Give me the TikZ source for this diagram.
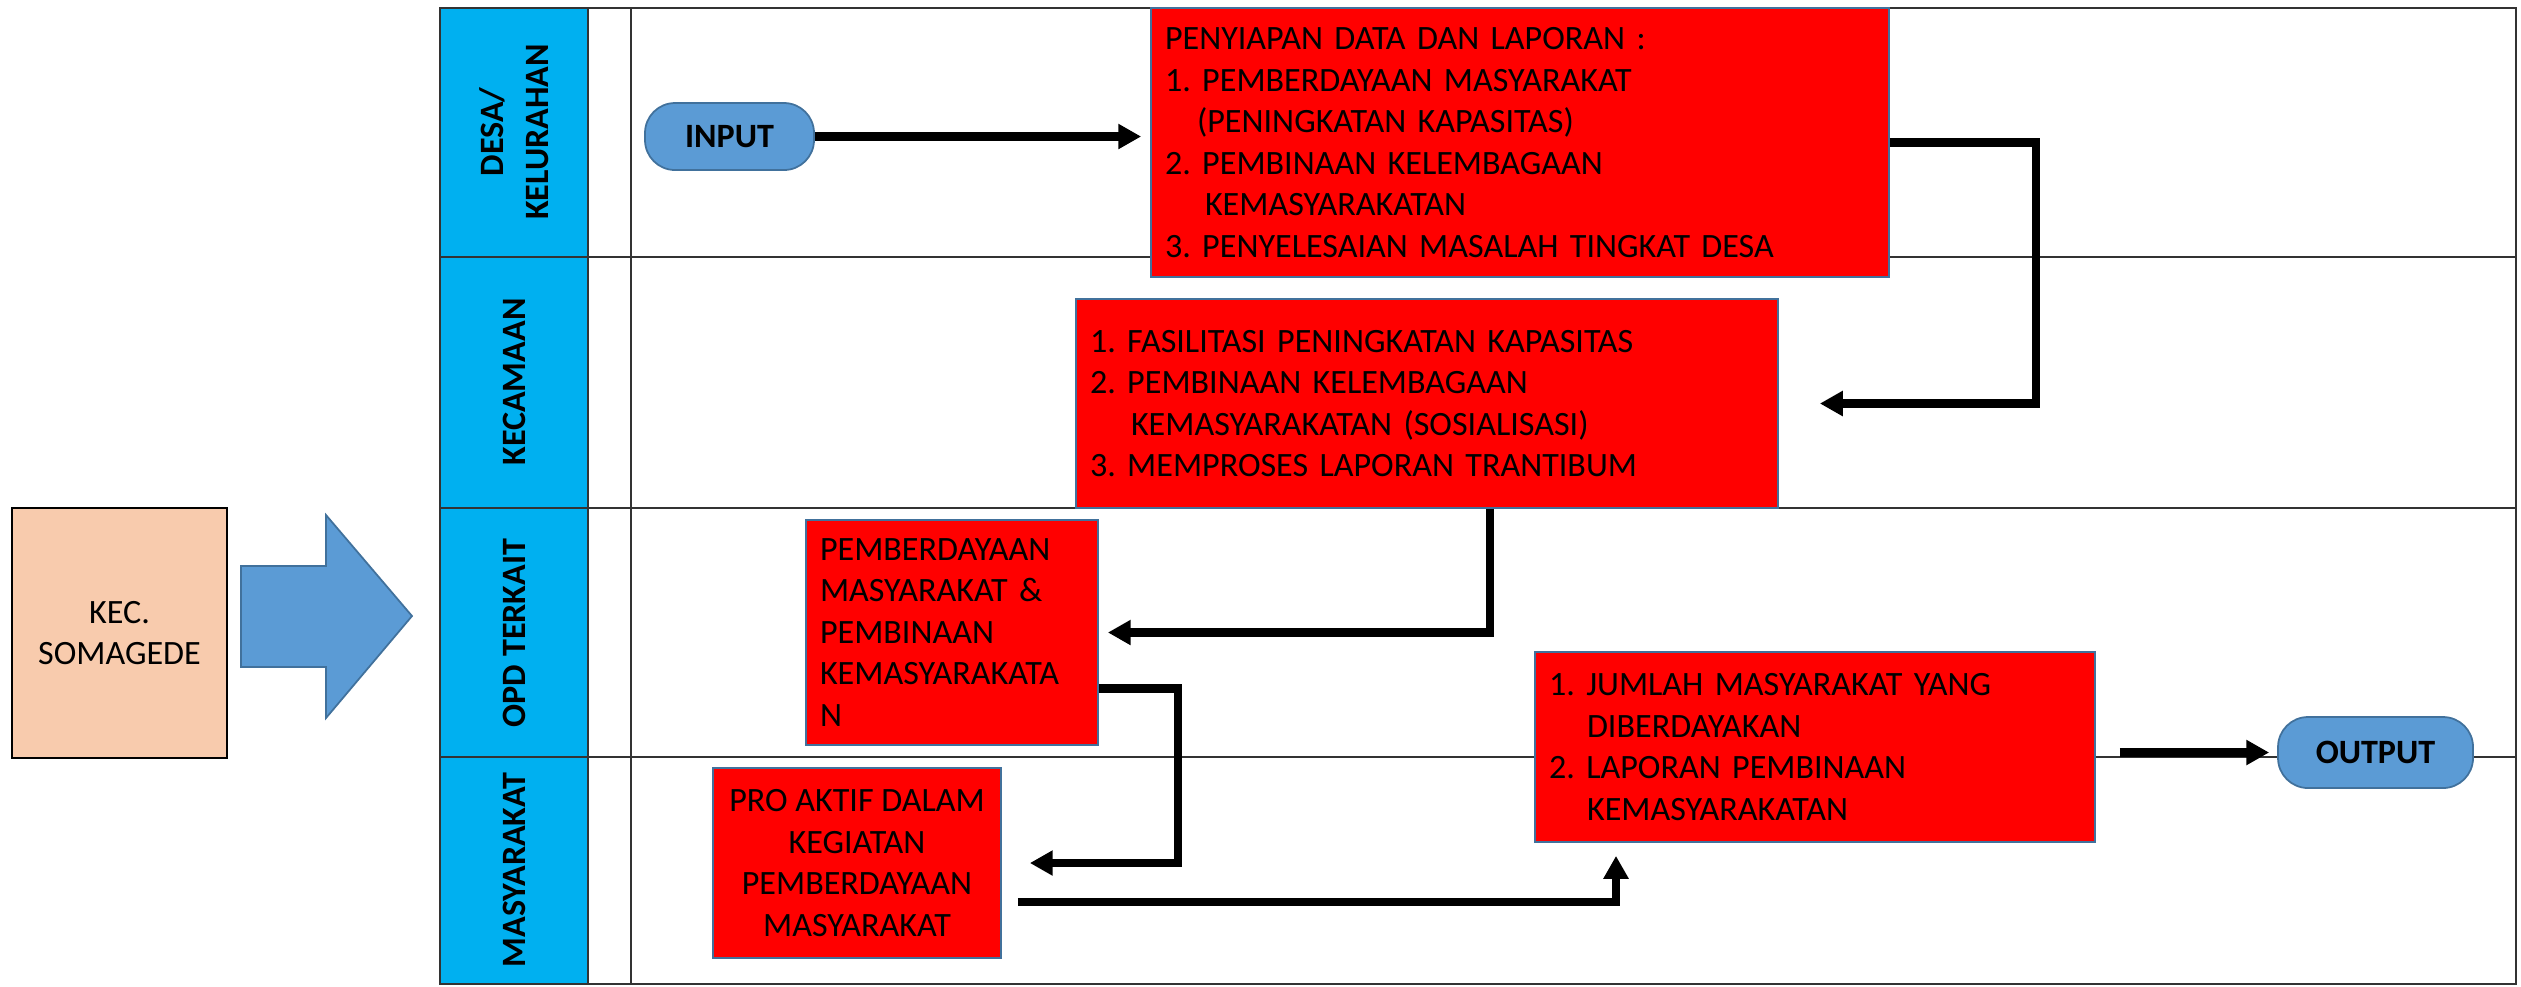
\documentclass[tikz,border=0pt]{standalone}
\usepackage{fontspec}
\setmainfont{Carlito}
\usepackage{tikz}
\usetikzlibrary{arrows.meta,positioning}
\definecolor{lanecyan}{RGB}{0,176,240}
\definecolor{termblue}{RGB}{91,155,213}
\definecolor{edgeblue}{RGB}{65,113,156}
\definecolor{peach}{RGB}{248,203,173}
\definecolor{taskred}{RGB}{255,0,0}
\frenchspacing

\begin{document}
\begin{tikzpicture}[
    txt/.style={font=\fontsize{9.7}{11.8}\selectfont},
    grid/.style={draw=black!80, line width=0.6pt},
    task/.style={txt, draw=edgeblue, line width=0.5pt, fill=taskred, align=left, inner xsep=0.14cm, inner ysep=0pt},
    term/.style={font=\fontsize{9.7}{11.8}\selectfont\bfseries, draw=edgeblue, line width=0.5pt, fill=termblue, rounded corners=3mm, inner sep=0pt},
    lane/.style={font=\fontsize{9.7}{12.8}\selectfont\bfseries, rotate=90, align=center},
    flow/.style={line width=2.3pt, -{Triangle[length=6.5pt,width=6.8pt]}}
  ]
  \useasboundingbox (0,0) rectangle (25.21,-9.86);

  \fill[lanecyan] (4.40,-0.08) rectangle (5.88,-9.84);
  \draw[grid] (4.40,-0.08) rectangle (25.16,-9.84);
  \draw[grid] (5.88,-0.08) -- (5.88,-9.84);
  \draw[grid] (6.31,-0.08) -- (6.31,-9.84);
  \foreach \y in {-2.57,-5.08,-7.57}
    \draw[grid] (4.40,\y) -- (25.16,\y);

  \node[lane] (ldesa) at (5.14,-1.32) {DESA/\\KELURAHAN};
  \node[lane] (lkec) at (5.14,-3.82) {KECAMAAN};
  \node[lane] (lopd) at (5.14,-6.33) {OPD TERKAIT};
  \node[lane] (lmas) at (5.14,-8.70) {MASYARAKAT};

  \node[txt, draw, line width=0.8pt, fill=peach, align=center, minimum width=2.15cm, minimum height=2.50cm] (src) at (1.195,-6.33) {KEC.\\SOMAGEDE};
  \draw[edgeblue, fill=termblue, line width=0.5pt] (2.41,-5.66) -- (3.26,-5.66) -- (3.26,-5.15) -- (4.12,-6.16)
    -- (3.26,-7.18) -- (3.26,-6.67) -- (2.41,-6.67) -- cycle;

  \node[term, minimum width=1.69cm, minimum height=0.67cm] (inp) at (7.295,-1.365) {INPUT};
  \node[term, minimum width=1.95cm, minimum height=0.71cm] (outp) at (23.755,-7.525) {OUTPUT};

  \node[task, text width=7.10cm, minimum height=2.69cm] (desa) at (15.20,-1.425) {PENYIAPAN DATA DAN LAPORAN :\\
    1. PEMBERDAYAAN MASYARAKAT\\
    \hspace*{0.32cm}(PENINGKATAN KAPASITAS)\\
    2. PEMBINAAN KELEMBAGAAN\\
    \hspace*{0.40cm}KEMASYARAKATAN\\
    3. PENYELESAIAN MASALAH TINGKAT DESA};
  \node[task, text width=6.74cm, minimum height=2.09cm] (kcm) at (14.27,-4.035) {1. FASILITASI PENINGKATAN KAPASITAS\\
    2. PEMBINAAN KELEMBAGAAN\\
    \hspace*{0.41cm}KEMASYARAKATAN (SOSIALISASI)\\
    3. MEMPROSES LAPORAN TRANTIBUM};
  \node[task, text width=2.64cm, minimum height=2.25cm] (opd) at (9.52,-6.325) {PEMBERDAYAAN\\MASYARAKAT \&\\PEMBINAAN\\KEMASYARAKATA\\N};
  \node[task, align=center, minimum width=2.88cm, minimum height=1.90cm] (pro) at (8.57,-8.63) {PRO AKTIF DALAM\\KEGIATAN\\PEMBERDAYAAN\\MASYARAKAT};
  \node[task, text width=5.32cm, minimum height=1.90cm] (jml) at (18.15,-7.47) {1. JUMLAH MASYARAKAT YANG\\
    \hspace*{0.38cm}DIBERDAYAKAN\\
    2. LAPORAN PEMBINAAN\\
    \hspace*{0.38cm}KEMASYARAKATAN};

  \draw[flow, shorten >=0.9mm] (inp.east) -- (inp.east -| desa.west);
  \draw[flow, shorten >=4.1mm] (desa.east) -- ++(1.46,0) |- (kcm.east);
  \draw[flow, shorten >=0.9mm] ([xshift=6.3mm]kcm.south) |- (opd.east);
  \draw[flow, shorten >=2.8mm] ([yshift=-5.6mm]opd.east) -- ++(0.79,0) |- (pro.east);
  \draw[flow, shorten >=1.3mm] ([xshift=1.6mm,yshift=-3.9mm]pro.east) -| ([xshift=-19.9mm]jml.south);
  \draw[flow, shorten <=2.4mm, shorten >=0.8mm] (jml.east |- outp.west) -- (outp.west);
\end{tikzpicture}
\end{document}
